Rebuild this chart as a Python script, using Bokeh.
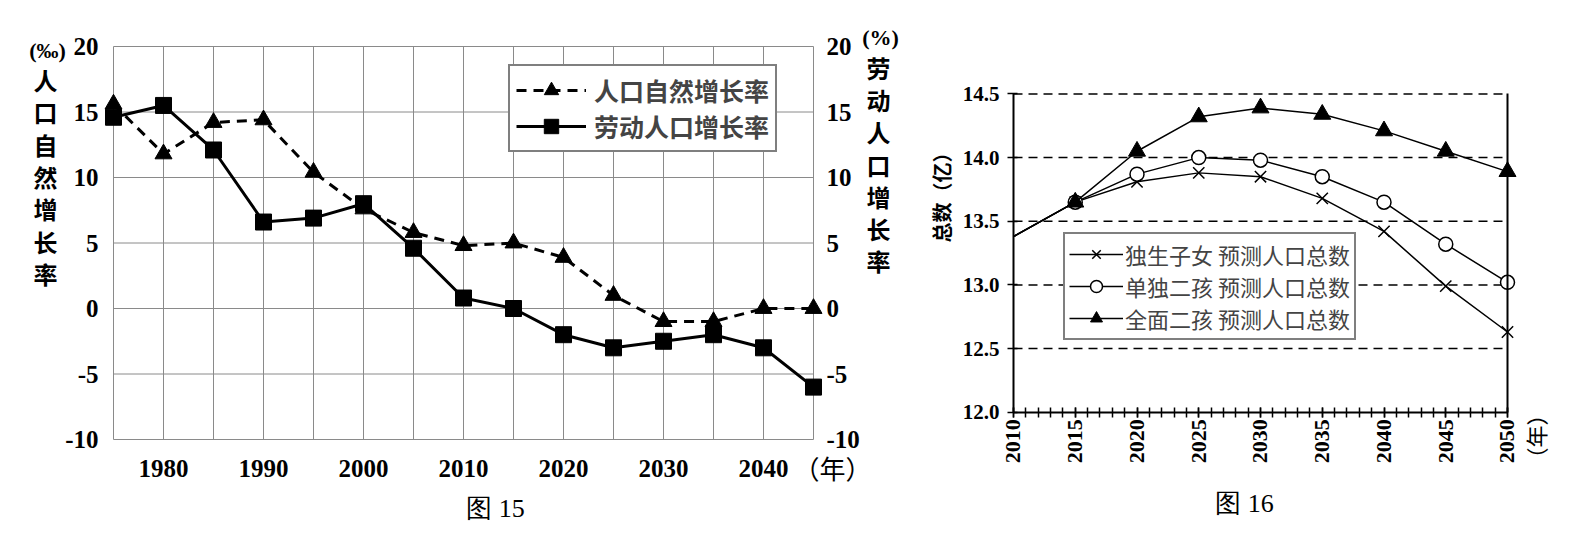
from math import pi
from bokeh.plotting import figure
from bokeh.models import (Range1d, LinearAxis, FixedTicker, Label, Legend,
                          LegendItem, NumeralTickFormatter)
from bokeh.layouts import row
from bokeh.embed import file_html
from bokeh.resources import INLINE

# ---------------- 图15 data ----------------
years_15 = [1975, 1980, 1985, 1990, 1995, 2000, 2005, 2010, 2015, 2020,
            2025, 2030, 2035, 2040, 2045]
natural_growth = [15.6, 11.8, 14.2, 14.4, 10.4, 7.6, 5.8, 4.8, 5.0, 3.9,
                  1.0, -1.0, -1.0, 0.0, 0.0]
labor_growth = [14.6, 15.5, 12.1, 6.6, 6.9, 8.0, 4.6, 0.8, 0.0, -2.0,
                -3.0, -2.5, -2.0, -3.0, -6.0]
x_labels_15 = [1980, 1990, 2000, 2010, 2020, 2030, 2040]
y_ticks_15 = [-10, -5, 0, 5, 10, 15, 20]
series_15 = ["人口自然增长率", "劳动人口增长率"]
left_title_15 = "人口自然增长率"
right_title_15 = "劳动人口增长率"
left_unit_15 = "(‰)"
right_unit_15 = "(%)"
x_unit = "（年）"
caption_15 = "图 15"

# ---------------- 图16 data ----------------
years_16 = [2010, 2015, 2020, 2025, 2030, 2035, 2040, 2045, 2050]
minor_years_16 = list(range(2010, 2051))
only_child = [13.38, 13.65, 13.81, 13.88, 13.85, 13.68, 13.42, 12.99, 12.63]
single_two = [13.38, 13.65, 13.87, 14.00, 13.98, 13.85, 13.65, 13.32, 13.02]
universal_two = [13.38, 13.65, 14.05, 14.32, 14.39, 14.34, 14.21, 14.05, 13.89]
y_ticks_16 = [12.0, 12.5, 13.0, 13.5, 14.0, 14.5]
series_16 = ["独生子女 预测人口总数", "单独二孩 预测人口总数", "全面二孩 预测人口总数"]
y_title_16 = "总数（亿）"
caption_16 = "图 16"

NUM = "Liberation Serif"
CJK = "Noto Sans CJK SC"
GRID = "#8a8a8a"
H = 544


def put(p, cx, cy, text, font, size, style="bold", angle=0.0, align="center"):
    p.add_layout(Label(x=cx, y=H - cy, x_units="screen", y_units="screen",
                       text=text, text_font=font, text_font_size=f"{size}px",
                       text_font_style=style, text_align=align,
                       text_baseline="middle", angle=angle, text_color="black"))


def base_fig(w, xr, yr):
    p = figure(width=w, height=H, output_backend="svg", toolbar_location=None,
               x_range=xr, y_range=yr, min_border=0,
               min_border_left=0, min_border_right=0,
               min_border_top=0, min_border_bottom=0)
    p.frame_align = False
    p.outline_line_color = None
    p.background_fill_color = "white"
    p.border_fill_color = "white"
    p.xgrid.visible = False
    p.ygrid.visible = False
    return p


# ======================= 图15 =======================
W1 = 900
X0_1, PXY_1 = 113.0, 10.0        # canvas x of first year, px per year
Y0_1, PXV_1 = 308.0, 13.1        # canvas y of value 0, px per unit
p1 = base_fig(W1,
              Range1d(years_15[0] - X0_1 / PXY_1, years_15[0] + (W1 - X0_1) / PXY_1),
              Range1d(-(H - Y0_1) / PXV_1, Y0_1 / PXV_1))

# grid lines limited to the chart area
nv = len(years_15)
p1.segment(x0=years_15, x1=years_15, y0=[y_ticks_15[0]] * nv, y1=[y_ticks_15[-1]] * nv,
           line_color=GRID, line_width=1)
nh = len(y_ticks_15)
p1.segment(x0=[years_15[0]] * nh, x1=[years_15[-1]] * nh, y0=y_ticks_15, y1=y_ticks_15,
           line_color=GRID, line_width=1)

# axes (drawn at fixed data locations)
xa1 = p1.xaxis[0]
xa1.fixed_location = y_ticks_15[0]
xa1.ticker = FixedTicker(ticks=x_labels_15)
xa1.axis_line_color = None
xa1.major_tick_line_color = None
xa1.minor_tick_line_color = None
xa1.major_label_standoff = 14
xa1.major_label_text_font = NUM
xa1.major_label_text_font_style = "bold"
xa1.major_label_text_font_size = "25px"
xa1.major_label_text_color = "black"

ytick_text_15 = {t: str(t) for t in y_ticks_15}
ya1 = p1.yaxis[0]
ya1.fixed_location = years_15[0]
ya1.ticker = FixedTicker(ticks=y_ticks_15)
ra1 = LinearAxis(ticker=FixedTicker(ticks=y_ticks_15), fixed_location=years_15[-1])
p1.add_layout(ra1, "right")
for ax, so in ((ya1, 9), (ra1, 7)):
    ax.axis_line_color = None
    ax.major_tick_line_color = None
    ax.minor_tick_line_color = None
    ax.major_label_overrides = ytick_text_15
    ax.major_label_text_font = NUM
    ax.major_label_text_font_style = "bold"
    ax.major_label_text_font_size = "25px"
    ax.major_label_text_color = "black"
    ax.major_label_standoff = so

# series
nat_line = p1.line(years_15, natural_growth, line_color="black", line_width=3,
                   line_dash="10 7")
nat_pts = p1.scatter(years_15, natural_growth, marker="triangle", size=17,
                     fill_color="black", line_color="black")
lab_line = p1.line(years_15, labor_growth, line_color="black", line_width=3)
lab_pts = p1.scatter(years_15, labor_growth, marker="square", size=16,
                     fill_color="black", line_color="black")

leg1 = Legend(items=[LegendItem(label=series_15[0], renderers=[nat_line, nat_pts]),
                     LegendItem(label=series_15[1], renderers=[lab_line, lab_pts])],
              location=(508, H - 152), glyph_width=70, glyph_height=36,
              label_height=36, spacing=0, padding=6, margin=0, label_standoff=8,
              label_text_font=CJK, label_text_font_size="25px",
              label_text_font_style="bold", border_line_color="black",
              border_line_width=2, background_fill_color="white",
              background_fill_alpha=1.0)
p1.add_layout(leg1)

# texts
put(p1, 47, 50, left_unit_15, NUM, 22)
for i, ch in enumerate(left_title_15):
    put(p1, 45, 79 + i * 32.3, ch, CJK, 24)
put(p1, 880, 37, right_unit_15, NUM, 22)
for i, ch in enumerate(right_title_15):
    put(p1, 878, 67 + i * 32.2, ch, CJK, 24)
put(p1, 832, 467, x_unit, CJK, 26, style="normal")
put(p1, 495, 508, caption_15, NUM, 26, style="normal")

# ======================= 图16 =======================
W2 = 692
X0_2, PXY_2 = 113.0, 12.35       # canvas x of 2010, px per year
Y0_2, PXV_2 = 411.7, 127.3       # canvas y of 12.0, px per unit
p2 = base_fig(W2,
              Range1d(years_16[0] - X0_2 / PXY_2, years_16[0] + (W2 - X0_2) / PXY_2),
              Range1d(y_ticks_16[0] - (H - Y0_2) / PXV_2, y_ticks_16[0] + Y0_2 / PXV_2))

m = len(y_ticks_16) - 1
p2.segment(x0=[years_16[0]] * m, x1=[years_16[-1]] * m, y0=y_ticks_16[1:],
           y1=y_ticks_16[1:], line_color="black", line_width=1.5, line_dash="9 6")

xa = p2.xaxis[0]
xa.fixed_location = y_ticks_16[0]
xa.bounds = (years_16[0], years_16[-1])
xa.ticker = FixedTicker(ticks=years_16, minor_ticks=minor_years_16)
xa.axis_line_color = "black"
xa.axis_line_width = 2
xa.major_tick_in = 5
xa.major_tick_out = 5
xa.minor_tick_in = 5
xa.minor_tick_out = 5
xa.major_tick_line_width = 1.5
xa.minor_tick_line_width = 1.5
xa.major_tick_line_color = "black"
xa.minor_tick_line_color = "black"
xa.major_label_orientation = pi / 2
xa.major_label_standoff = 2
xa.major_label_text_font = NUM
xa.major_label_text_font_style = "bold"
xa.major_label_text_font_size = "22px"
xa.major_label_text_color = "black"

ya = p2.yaxis[0]
ya.fixed_location = years_16[0]
ya.bounds = (y_ticks_16[0], y_ticks_16[-1])
ya.ticker = FixedTicker(ticks=y_ticks_16)
ya.formatter = NumeralTickFormatter(format="0.0")
ya.axis_line_color = "black"
ya.axis_line_width = 2
ya.major_tick_in = 4
ya.major_tick_out = 6
ya.major_tick_line_width = 1.5
ya.major_tick_line_color = "black"
ya.minor_tick_line_color = None
ya.major_label_standoff = 8
ya.major_label_text_font = NUM
ya.major_label_text_font_style = "bold"
ya.major_label_text_font_size = "21px"
ya.major_label_text_color = "black"

ra2 = LinearAxis(fixed_location=years_16[-1], bounds=(y_ticks_16[0], y_ticks_16[-1]),
                 ticker=FixedTicker(ticks=[]), axis_line_color="black",
                 axis_line_width=2, major_tick_line_color=None,
                 minor_tick_line_color=None, major_label_text_font_size="0px")
p2.add_layout(ra2, "right")

l1 = p2.line(years_16, only_child, line_color="black", line_width=1.5)
s1 = p2.scatter(years_16[1:], only_child[1:], marker="x", size=16,
                line_color="black", line_width=1.5)
l2 = p2.line(years_16, single_two, line_color="black", line_width=1.5)
s2 = p2.scatter(years_16[1:], single_two[1:], marker="circle", size=14,
                fill_color="white", line_color="black", line_width=1.5)
l3 = p2.line(years_16, universal_two, line_color="black", line_width=1.5)
s3 = p2.scatter(years_16[1:], universal_two[1:], marker="triangle", size=17,
                fill_color="black", line_color="black")

leg2 = Legend(items=[LegendItem(label=series_16[0], renderers=[l1, s1]),
                     LegendItem(label=series_16[1], renderers=[l2, s2]),
                     LegendItem(label=series_16[2], renderers=[l3, s3])],
              location=(1063 - 900, H - 340), glyph_width=54, glyph_height=30,
              label_height=30, spacing=0, padding=4, margin=0, label_standoff=2,
              label_text_font=CJK, label_text_font_size="22px",
              border_line_color="black", border_line_width=2,
              background_fill_color="white", background_fill_alpha=1.0)
p2.add_layout(leg2)

put(p2, 941 - 900, 192, y_title_16, CJK, 20, angle=pi / 2)
put(p2, 1534 - 900, 436, x_unit, CJK, 22, style="normal", angle=pi / 2)
put(p2, 1244 - 900, 503, caption_16, NUM, 26, style="normal")

layout = row(p1, p2, spacing=0)
open("out.html", "w").write(file_html(layout, INLINE))
